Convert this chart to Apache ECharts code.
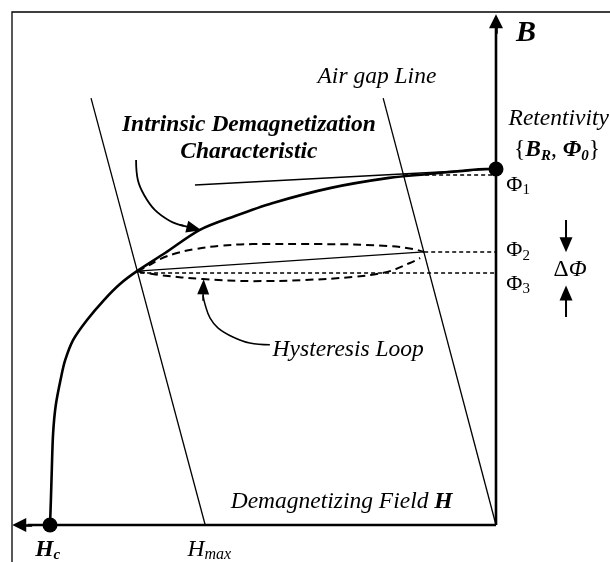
<!DOCTYPE html>
<html><head><meta charset="utf-8">
<script src="https://cdn.jsdelivr.net/npm/echarts@6/dist/echarts.min.js"></script>
<style>html,body{margin:0;padding:0;background:#fff}#c{width:610px;height:562px}</style>
</head><body><div id="c"></div>
<script>
// H normalised to coercivity (Hc = -1), B normalised to retentivity (B_R = 1)
const demagCurve = [[-1.0,0],[-0.998,0.07],[-0.996,0.154],[-0.993,0.258],[-0.987,0.337],[-0.975,0.416],[-0.966,0.463],[-0.948,0.52],[-0.917,0.576],[-0.879,0.632],[-0.843,0.677],[-0.805,0.713],[-0.742,0.764],[-0.664,0.829],[-0.585,0.868],[-0.502,0.904],[-0.37,0.947],[-0.24,0.975],[-0.152,0.986],[-0.081,0.994],[-0.022,1.0],[0,1.0]];
const recoilLine = [[-0.675,0.955],[0,1.0]];
const airGapLine = [[-0.253,1.199],[0,0]];
const hmaxLine = [[-0.908,1.199],[-0.652,0]];
const loopChord = [[-0.805,0.713],[-0.161,0.767]];
const loopUpper = [[-0.805,0.713],[-0.780,0.728],[-0.753,0.747],[-0.715,0.764],[-0.675,0.775],[-0.619,0.784],[-0.545,0.789],[-0.395,0.789],[-0.244,0.784],[-0.186,0.775],[-0.161,0.767]];
const loopLower = [[-0.805,0.713],[-0.753,0.702],[-0.657,0.691],[-0.545,0.685],[-0.433,0.688],[-0.321,0.697],[-0.244,0.711],[-0.193,0.736],[-0.170,0.750]];
const phiLevels = [0.983, 0.767, 0.708];
const phiStarts = [-0.206, -0.161, -0.798];
const phiNames = ['1', '2', '3'];
const keyPoints = [[0,1.0],[-1.0,0]];
const bAxis = [[0,0],[0,1.40]];
const hAxis = [[0,0],[-1.05,0]];
const bArrowHead = [[0,1.38],[0,1.415]];
const hArrowHead = [[-1.04,0],[-1.069,0]];
const intrinsicArrow = [[-0.807,1.025],[-0.803,0.969],[-0.789,0.927],[-0.765,0.885],[-0.731,0.854],[-0.700,0.840]];
const intrinsicHead = [[-0.709,0.843],[-0.677,0.833]];
const hystArrow = [[-0.507,0.506],[-0.552,0.511],[-0.590,0.528],[-0.623,0.553],[-0.641,0.581],[-0.652,0.618],[-0.657,0.646]];
const hystHead = [[-0.657,0.630],[-0.656,0.669]];
const dPhiDown = [[0.157,0.857],[0.157,0.80]];
const dPhiDownHead = [[0.157,0.81],[0.157,0.787]];
const dPhiUp = [[0.157,0.584],[0.157,0.64]];
const dPhiUpHead = [[0.157,0.63],[0.157,0.652]];
// text anchors
const labelB = [0.067, 1.382];
const labelAirGap = [-0.267, 1.258];
const labelIntrinsic = [-0.554, 1.124];
const labelCharacteristic = [-0.554, 1.048];
const labelRetentivity = [0.027, 1.140];
const labelBR = [0.137, 1.053];
const labelPhiH = 0.022;
const labelPhiB = [0.955, 0.772, 0.677];
const labelDeltaPhi = [0.166, 0.716];
const labelHyst = [-0.502, 0.492];
const labelDemag = [-0.596, 0.065];
const labelHc = [-1.034, -0.070];
const labelHmax = [-0.693, -0.070];

const F = 'Liberation Serif';
const K = '#000';
function ln(data, width, type, smooth) {
  return {type:'line', data:data, symbol:'none', showSymbol:false, smooth:smooth||false, silent:true, animation:false,
    lineStyle:{color:K, width:width, type:type||'solid'}, z:3};
}
function head(seg, w, h, width) {
  return {symbol:['none','triangle'], symbolSize:[w,h], silent:true, animation:false,
    label:{show:false}, lineStyle:{color:K, width:width, type:'solid', opacity:1},
    itemStyle:{color:K, opacity:1},
    emphasis:{disabled:true},
    data:[[{coord:seg[0]},{coord:seg[1]}]]};
}
function withHead(data, width, seg, w, h, smooth) {
  const s = ln(data, width, 'solid', smooth);
  s.markLine = head(seg, w, h, width);
  return s;
}
const FS = 23.5;
const rich = {
  i:{fontFamily:F, fontStyle:'italic', fontSize:FS, color:K},
  bi:{fontFamily:F, fontStyle:'italic', fontWeight:'bold', fontSize:FS, color:K},
  bib:{fontFamily:F, fontStyle:'italic', fontWeight:'bold', fontSize:30, color:K},
  p:{fontFamily:F, fontSize:22, color:K},
  s:{fontFamily:F, fontSize:15, color:K, verticalAlign:'bottom', lineHeight:14},
  bs:{fontFamily:F, fontStyle:'italic', fontWeight:'bold', fontSize:15, color:K, verticalAlign:'bottom', lineHeight:14},
  is:{fontFamily:F, fontStyle:'italic', fontSize:16, color:K, verticalAlign:'bottom', lineHeight:14},
  n:{fontFamily:F, fontSize:FS, color:K}
};
function txt(pos, fmt, left) {
  return {value:pos, label:{show:true, formatter:fmt, position: left ? 'right' : 'inside', distance:0,
    align: left ? 'left' : 'center', verticalAlign:'middle', opacity:1,
    fontFamily:F, fontSize:FS, color:K, lineHeight:26, rich:rich}};
}
const texts = [
  txt(labelB, '{bib|B}'),
  txt(labelAirGap, '{i|Air gap Line}'),
  txt(labelIntrinsic, '{bi|Intrinsic Demagnetization}'),
  txt(labelCharacteristic, '{bi|Characteristic}'),
  txt(labelRetentivity, '{i|Retentivity}', true),
  txt(labelBR, '{n|{}{bi|B}{bs|R}{n|, }{bi|Φ}{bs|0}{n|\u007d}'),
  txt(labelDeltaPhi, '{n|Δ}{i|Φ}'),
  txt(labelHyst, '{i|Hysteresis Loop}', true),
  txt(labelDemag, '{i|Demagnetizing Field }{bi|H}', true),
  txt(labelHc, '{bi|H}{bs|c}', true),
  txt(labelHmax, '{i|H}{is|max}', true)
];
phiLevels.forEach(function(v,k){ texts.push(txt([labelPhiH, labelPhiB[k]], '{p|Φ}{s|' + phiNames[k] + '}', true)); });

const series = [
  ln(hmaxLine, 1.3),
  ln(airGapLine, 1.3),
  ln(recoilLine, 1.3),
  ln(loopChord, 1.3),
  ln(loopUpper, 2, [8,5], 0.4),
  ln(loopLower, 2, [8,5], 0.4),
  ln(demagCurve, 2.6, 'solid', 0.3),
  withHead(bAxis, 2.6, bArrowHead, 14, 14),
  withHead(hAxis, 2.6, hArrowHead, 14, 14),
  withHead(intrinsicArrow, 1.8, intrinsicHead, 12, 15, 0.4),
  withHead(hystArrow, 1.5, hystHead, 12, 15, 0.4),
  withHead(dPhiDown, 2, dPhiDownHead, 13, 15),
  withHead(dPhiUp, 2, dPhiUpHead, 13, 15)
];
phiLevels.forEach(function(v,k){
  series.push(ln([[phiStarts[k], v],[0, v]], 1.6, [4,3]));
});
series.push({type:'scatter', data:keyPoints, symbolSize:15, itemStyle:{color:K, opacity:1}, silent:true, animation:false, z:5, clip:false});
series.push({type:'scatter', data:texts, symbolSize:1, itemStyle:{color:'rgba(0,0,0,0)', opacity:1}, silent:true, animation:false, z:6, clip:false});

const chart = echarts.init(document.getElementById('c'));
chart.setOption({
  backgroundColor:'#fff',
  animation:false,
  grid:{left:5.4, right:2.5, top:8.8, bottom:1.4, containLabel:false},
  xAxis:{type:'value', min:-1.1, max:0.25, show:false},
  yAxis:{type:'value', min:-0.1, max:1.45, show:false},
  graphic:[{type:'rect', shape:{x:12, y:12, width:700, height:700}, style:{fill:'none', stroke:K, lineWidth:1.3}, z:-10, silent:true}],
  series:series
});
</script></body></html>
